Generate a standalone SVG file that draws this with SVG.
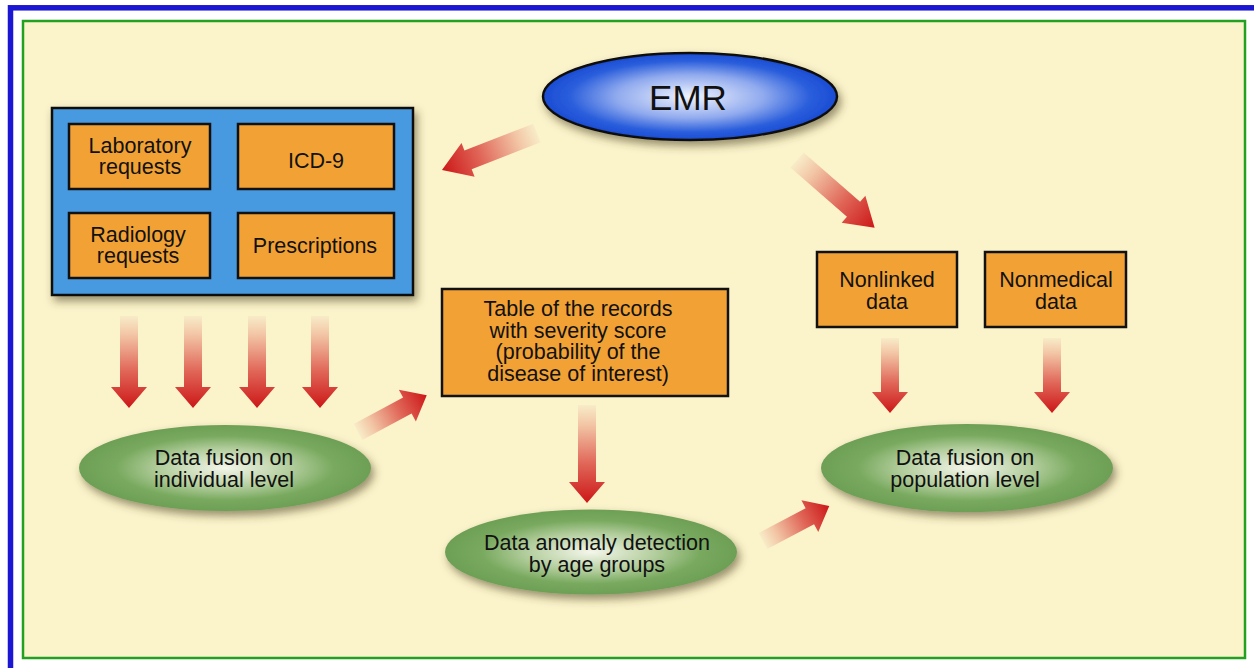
<svg xmlns="http://www.w3.org/2000/svg" width="1254" height="668" viewBox="0 0 1254 668">
  <defs>
    <linearGradient id="arrowGrad" x1="0" y1="0" x2="1" y2="0">
      <stop offset="0" stop-color="#f8ecc8"/>
      <stop offset="0.2" stop-color="#f2c6a6"/>
      <stop offset="0.6" stop-color="#e06658"/>
      <stop offset="1" stop-color="#cc1717"/>
    </linearGradient>
    <radialGradient id="blueGrad" cx="0.5" cy="0.5" r="0.5">
      <stop offset="0" stop-color="#f0f4fe"/>
      <stop offset="0.5" stop-color="#90aaee"/>
      <stop offset="0.82" stop-color="#2a5edc"/>
      <stop offset="1" stop-color="#1a4cd4"/>
    </radialGradient>
    <radialGradient id="greenGrad" cx="0.5" cy="0.5" r="0.5">
      <stop offset="0" stop-color="#f4f6ea"/>
      <stop offset="0.45" stop-color="#b2cd9c"/>
      <stop offset="0.75" stop-color="#78a95e"/>
      <stop offset="1" stop-color="#6d9f56"/>
    </radialGradient>
    <filter id="shadow" x="-20%" y="-20%" width="150%" height="160%">
      <feDropShadow dx="3" dy="5" stdDeviation="4" flood-color="#4a3f1a" flood-opacity="0.55"/>
    </filter>
  </defs>
  <style>
    .obox { fill: #f2a234; stroke: #111; stroke-width: 2.5; }
    .lbl { font-family: "Liberation Sans", Arial, sans-serif; font-size: 21.5px; fill: #111; text-anchor: middle; }
    .arrow { fill: url(#arrowGrad); }
  </style>

  <rect x="0" y="0" width="1254" height="668" fill="#ffffff"/>
  <rect x="10.5" y="7.8" width="1262" height="680" fill="none" stroke="#1a16d2" stroke-width="5.5"/>
  <rect x="23" y="21" width="1222" height="637" fill="#fbf3ca" stroke="#22a020" stroke-width="2.5"/>

  <g id="connectors">
    <path class="arrow" d="M0,-10 H74 V-18 L102,0 L74,18 V10 H0 Z" transform="translate(537,133) rotate(158.7)"/>
    <path class="arrow" d="M0,-10 H75 V-18 L103,0 L75,18 V10 H0 Z" transform="translate(797,160) rotate(41.1)"/>
    <path class="arrow" d="M0,-9 H71 V-18 L92,0 L71,18 V9 H0 Z" transform="translate(129,316) rotate(90)"/>
    <path class="arrow" d="M0,-9 H71 V-18 L92,0 L71,18 V9 H0 Z" transform="translate(193,316) rotate(90)"/>
    <path class="arrow" d="M0,-9 H71 V-18 L92,0 L71,18 V9 H0 Z" transform="translate(257,316) rotate(90)"/>
    <path class="arrow" d="M0,-9 H71 V-18 L92,0 L71,18 V9 H0 Z" transform="translate(320,316) rotate(90)"/>
    <path class="arrow" d="M0,-9 H56 V-18 L78,0 L56,18 V9 H0 Z" transform="translate(358,432) rotate(-28.2)"/>
    <path class="arrow" d="M0,-9 H77 V-18 L98,0 L77,18 V9 H0 Z" transform="translate(587,405) rotate(90)"/>
    <path class="arrow" d="M0,-9 H53 V-18 L75,0 L53,18 V9 H0 Z" transform="translate(763,541) rotate(-27.9)"/>
    <path class="arrow" d="M0,-9 H54 V-18 L75,0 L54,18 V9 H0 Z" transform="translate(890,338) rotate(90)"/>
    <path class="arrow" d="M0,-9 H54 V-18 L75,0 L54,18 V9 H0 Z" transform="translate(1052,338) rotate(90)"/>
  </g>

  <g id="emr">
    <ellipse cx="690" cy="96.5" rx="147" ry="43.5" fill="url(#blueGrad)" stroke="#111" stroke-width="2.5" filter="url(#shadow)"/>
    <text class="lbl" x="688" y="110" style="font-size:35px">EMR</text>
  </g>

  <g id="sources">
    <rect x="52" y="108" width="361" height="187" fill="#4699e0" stroke="#111" stroke-width="2.5" filter="url(#shadow)"/>
    <g id="lab">
      <rect class="obox" x="69" y="124" width="141" height="65"/>
      <text class="lbl" x="140" y="152.5">Laboratory</text>
      <text class="lbl" x="140" y="174">requests</text>
    </g>
    <g id="icd9">
      <rect class="obox" x="238" y="124" width="156" height="65"/>
      <text class="lbl" x="316" y="168">ICD-9</text>
    </g>
    <g id="radiology">
      <rect class="obox" x="69" y="213" width="141" height="65"/>
      <text class="lbl" x="138" y="241.5">Radiology</text>
      <text class="lbl" x="138" y="263">requests</text>
    </g>
    <g id="prescriptions">
      <rect class="obox" x="238" y="213" width="156" height="65"/>
      <text class="lbl" x="315" y="253">Prescriptions</text>
    </g>
  </g>

  <g id="table">
    <rect class="obox" x="442" y="289" width="286" height="107"/>
    <text class="lbl" x="578" y="316">Table of the records</text>
    <text class="lbl" x="578" y="337.5">with severity score</text>
    <text class="lbl" x="578" y="359">(probability of the</text>
    <text class="lbl" x="578" y="380.5">disease of interest)</text>
  </g>

  <g id="fusionIndividual">
    <ellipse cx="225" cy="468" rx="146" ry="43" fill="url(#greenGrad)" filter="url(#shadow)"/>
    <text class="lbl" x="224" y="465">Data fusion on</text>
    <text class="lbl" x="224" y="486.5">individual level</text>
  </g>

  <g id="anomaly">
    <ellipse cx="591" cy="552" rx="146" ry="42.5" fill="url(#greenGrad)" filter="url(#shadow)"/>
    <text class="lbl" x="597" y="550">Data anomaly detection</text>
    <text class="lbl" x="597" y="572">by age groups</text>
  </g>

  <g id="nonlinked">
    <rect class="obox" x="817" y="252" width="140" height="75"/>
    <text class="lbl" x="887" y="287">Nonlinked</text>
    <text class="lbl" x="887" y="308.5">data</text>
  </g>

  <g id="nonmedical">
    <rect class="obox" x="985" y="252" width="141" height="75"/>
    <text class="lbl" x="1056" y="287">Nonmedical</text>
    <text class="lbl" x="1056" y="308.5">data</text>
  </g>

  <g id="fusionPopulation">
    <ellipse cx="967" cy="468" rx="146" ry="44" fill="url(#greenGrad)" filter="url(#shadow)"/>
    <text class="lbl" x="965" y="465">Data fusion on</text>
    <text class="lbl" x="965" y="486.5">population level</text>
  </g>
</svg>
